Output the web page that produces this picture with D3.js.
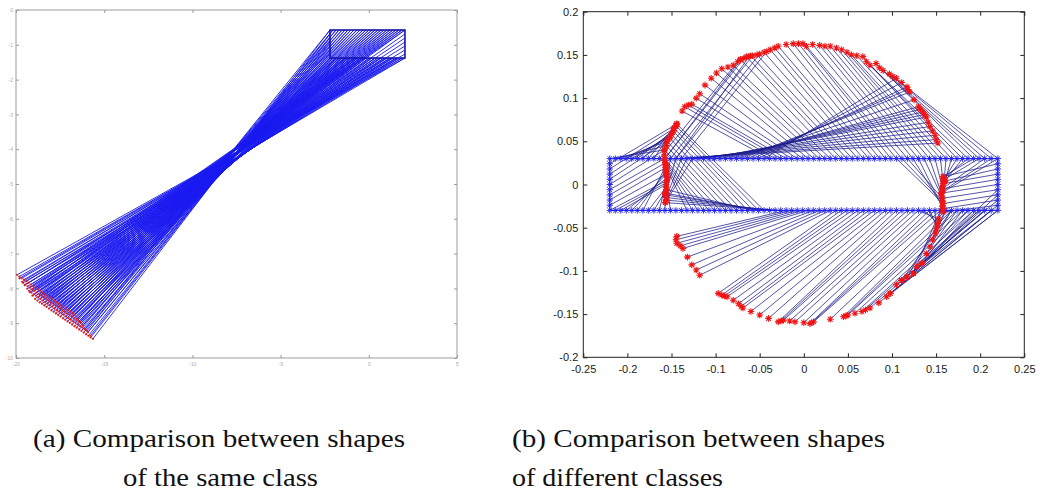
<!DOCTYPE html>
<html><head><meta charset="utf-8">
<script src="https://cdn.jsdelivr.net/npm/d3@7"></script>
<style>body{margin:0;background:#fff}svg{display:block}</style>
</head><body>
<svg id="c" width="1040" height="502"></svg>
<script>
// ---------- Panel (a) data ----------
const aXTicks = [-20, -15, -10, -5, 0, 5];
const aYTicks = [0, -1, -2, -3, -4, -5, -6, -7, -8, -9, -10];
const aRectX = [-2.20, 2.05];
const aRectY = [-0.575, -1.38];
const aEdgeX = [-2.20, -2.03, -1.86, -1.69, -1.52, -1.35, -1.18, -1.01, -0.84, -0.67, -0.50, -0.33, -0.16,
  0.01, 0.18, 0.35, 0.52, 0.69, 0.86, 1.03, 1.20, 1.37, 1.54, 1.71, 1.88, 2.05];
const aSideY = [-0.69, -0.805, -0.92, -1.034, -1.149, -1.264];
// red rows matched to the top edge
const aRedTopX = [-15.64, -15.77, -15.90, -16.03, -16.16, -16.29, -16.42, -16.56, -16.69, -16.82, -16.95, -17.08, -17.21,
  -17.34, -17.48, -17.61, -17.74, -17.87, -18.00, -18.13, -18.27, -18.40, -18.53, -18.66, -18.79, -18.92];
const aRedTopY = [-9.45, -9.41, -9.36, -9.32, -9.27, -9.22, -9.18, -9.13, -9.09, -9.04, -8.99, -8.95, -8.90,
  -8.86, -8.81, -8.76, -8.72, -8.67, -8.63, -8.58, -8.53, -8.49, -8.44, -8.40, -8.35, -8.30];
const aRedTop2X = [-15.98, -16.11, -16.24, -16.37, -16.50, -16.63, -16.76, -16.90, -17.03, -17.16, -17.29, -17.42, -17.55,
  -17.68, -17.82, -17.95, -18.08, -18.21, -18.34, -18.47, -18.61, -18.74, -18.87, -19.00, -19.13, -19.26];
const aRedTop2Y = [-9.22, -9.18, -9.13, -9.09, -9.04, -8.99, -8.95, -8.90, -8.86, -8.81, -8.76, -8.72, -8.67,
  -8.63, -8.58, -8.53, -8.49, -8.44, -8.40, -8.35, -8.30, -8.26, -8.21, -8.17, -8.12, -8.07];
// red rows matched to the bottom edge
const aRedBot2X = [-16.32, -16.45, -16.58, -16.71, -16.84, -16.97, -17.10, -17.24, -17.37, -17.50, -17.63, -17.76, -17.89,
  -18.02, -18.16, -18.29, -18.42, -18.55, -18.68, -18.81, -18.95, -19.08, -19.21, -19.34, -19.47, -19.60];
const aRedBot2Y = [-8.99, -8.95, -8.90, -8.86, -8.81, -8.76, -8.72, -8.67, -8.63, -8.58, -8.53, -8.49, -8.44,
  -8.40, -8.35, -8.30, -8.26, -8.21, -8.17, -8.12, -8.07, -8.03, -7.98, -7.94, -7.89, -7.84];
const aRedBotX = [-16.66, -16.79, -16.92, -17.05, -17.18, -17.31, -17.44, -17.58, -17.71, -17.84, -17.97, -18.10, -18.23,
  -18.36, -18.50, -18.63, -18.76, -18.89, -19.02, -19.15, -19.29, -19.42, -19.55, -19.68, -19.81, -19.94];
const aRedBotY = [-8.76, -8.72, -8.67, -8.63, -8.58, -8.53, -8.49, -8.44, -8.40, -8.35, -8.30, -8.26, -8.21,
  -8.17, -8.12, -8.07, -8.03, -7.98, -7.94, -7.89, -7.84, -7.80, -7.75, -7.71, -7.66, -7.61];
const aRedLeftX = [-15.78, -15.92, -16.07, -16.22, -16.37, -16.51];
const aRedLeftY = [-9.36, -9.26, -9.16, -9.06, -8.96, -8.86];
const aRedRightX = [-19.07, -19.21, -19.36, -19.51, -19.65, -19.80];
const aRedRightY = [-8.21, -8.11, -8.01, -7.91, -7.81, -7.71];

// ---------- Panel (b) data ----------
const bXTicks = [-0.25, -0.2, -0.15, -0.1, -0.05, 0, 0.05, 0.1, 0.15, 0.2, 0.25];
const bYTicks = [-0.2, -0.15, -0.1, -0.05, 0, 0.05, 0.1, 0.15, 0.2];
const bRectX = [-0.22, 0.22];
const bRectY = [-0.03, 0.03];
const bEdgeX = [-0.22, -0.21375, -0.2075, -0.20125, -0.195, -0.18875, -0.1825, -0.17625, -0.17, -0.16375, -0.1575,
  -0.15125, -0.145, -0.13875, -0.1325, -0.12625, -0.12, -0.11375, -0.1075, -0.10125, -0.095, -0.08875, -0.0825,
  -0.07625, -0.07, -0.06375, -0.0575, -0.05125, -0.045, -0.03875, -0.0325, -0.02625, -0.02, -0.01375, -0.0075,
  -0.00125, 0.005, 0.01125, 0.0175, 0.02375, 0.03, 0.03625, 0.0425, 0.04875, 0.055, 0.06125, 0.0675, 0.07375,
  0.08, 0.08625, 0.0925, 0.09875, 0.105, 0.11125, 0.1175, 0.12375, 0.13, 0.13625, 0.1425, 0.14875, 0.155, 0.16125,
  0.1675, 0.17375, 0.18, 0.18625, 0.1925, 0.19875, 0.205, 0.2125, 0.22];
const bSideY = [0.024, 0.018, 0.012, 0.006, 0, -0.006, -0.012, -0.018, -0.024];
// links from the top edge: [blue x, red x, red y]
const bTopLinks = [
  [-0.22, -0.158, 0.040], [-0.21375, -0.156, 0.045], [-0.2075, -0.155, 0.050], [-0.20125, -0.152, 0.054],
  [-0.195, -0.150, 0.058], [-0.18875, -0.148, 0.062], [-0.1825, -0.147, 0.065], [-0.17625, -0.145, 0.068],
  [-0.17, -0.144, 0.070], [-0.16375, -0.075, 0.142], [-0.1575, -0.068, 0.146], [-0.15125, -0.058, 0.149],
  [-0.145, -0.050, 0.151], [-0.13875, -0.042, 0.154], [-0.1575, -0.072, 0.144], [-0.145, -0.062, 0.148],
  [-0.1575, -0.156, -0.006], [-0.15125, -0.157, -0.010], [-0.145, -0.157, -0.012], [-0.13875, -0.156, -0.015],
  [-0.1325, -0.156, -0.018], [-0.12625, -0.157, -0.021],
  [-0.145, 0.152, 0.048], [-0.13875, 0.150, 0.052], [-0.1325, 0.149, 0.057], [-0.12625, 0.146, 0.062],
  [-0.12, 0.143, 0.067], [-0.11375, 0.141, 0.072], [-0.1075, 0.139, 0.078], [-0.10125, 0.137, 0.081],
  [-0.095, 0.135, 0.084], [-0.08875, 0.132, 0.087], [-0.0825, 0.130, 0.090], [-0.07625, 0.125, 0.098],
  [-0.07, 0.120, 0.107], [-0.06375, 0.118, 0.110], [-0.0575, 0.117, 0.113], [-0.05125, 0.111, 0.118],
  [-0.045, 0.105, 0.123],
  [-0.03875, -0.138, 0.085], [-0.0325, -0.135, 0.090], [-0.02625, -0.131, 0.092], [-0.02, -0.127, 0.093],
  [-0.01375, -0.122, 0.100], [-0.0075, -0.118, 0.105], [-0.00125, -0.112, 0.115], [0.005, -0.105, 0.123],
  [0.01125, -0.099, 0.129], [0.0175, -0.093, 0.134], [0.02375, -0.086, 0.136], [0.03, -0.080, 0.138],
  [0.03625, -0.072, 0.145], [0.0425, -0.065, 0.148], [0.04875, -0.060, 0.149], [0.055, -0.053, 0.150],
  [0.06125, -0.045, 0.153], [0.0675, -0.038, 0.156], [0.07375, -0.033, 0.158], [0.08, -0.029, 0.160],
  [0.08625, -0.020, 0.162], [0.0925, -0.012, 0.163], [0.09875, -0.006, 0.163], [0.105, -0.001, 0.163],
  [0.11125, 0.003, 0.160], [0.1175, 0.010, 0.162], [0.12375, 0.018, 0.161], [0.13, 0.024, 0.160],
  [0.13625, 0.030, 0.160], [0.1425, 0.037, 0.158], [0.14875, 0.043, 0.156], [0.155, 0.049, 0.153],
  [0.16125, 0.054, 0.150], [0.1675, 0.060, 0.149], [0.17375, 0.067, 0.148], [0.18, 0.071, 0.142],
  [0.18625, 0.075, 0.138], [0.1925, 0.082, 0.140], [0.19875, 0.086, 0.135], [0.205, 0.090, 0.132],
  [0.2125, 0.097, 0.128], [0.22, 0.101, 0.125],
  [0.105, 0.158, -0.022], [0.11125, 0.157, -0.019], [0.1175, 0.157, -0.016], [0.12375, 0.157, -0.025],
  [0.13, 0.158, -0.028], [0.13625, 0.156, -0.013], [0.1425, 0.156, -0.010], [0.14875, 0.157, -0.003],
  [0.155, 0.158, 0.001], [0.16125, 0.159, 0.003], [0.1675, 0.160, 0.004], [0.17375, 0.159, 0.006],
  [0.18, 0.160, 0.004], [0.18625, 0.158, 0.007], [0.1925, 0.158, 0.009], [0.19875, 0.158, 0.005],
  [0.205, 0.157, -0.005], [0.2125, 0.157, -0.008], [0.22, 0.156, -0.010]
];
// links from the right edge: [blue y, red x, red y]
const bRightLinks = [
  [0.024, 0.158, 0.009], [0.018, 0.160, 0.004], [0.012, 0.158, 0.001], [0.006, 0.157, -0.005],
  [0.0, 0.156, -0.010], [-0.006, 0.157, -0.016], [-0.012, 0.158, -0.022], [-0.018, 0.157, -0.028],
  [-0.024, 0.158, -0.032], [-0.024, 0.098, -0.126], [-0.018, 0.111, -0.111], [-0.012, 0.124, -0.103],
  [-0.006, 0.134, -0.091]
];
// links from the bottom edge: [blue x, red x, red y]
const bBottomLinks = [
  [-0.22, -0.155, 0.005], [-0.21375, -0.156, 0.002], [-0.2075, -0.156, 0.000], [-0.20125, -0.155, 0.008],
  [-0.195, -0.156, 0.012], [-0.18875, -0.156, 0.016], [-0.1825, -0.157, 0.020], [-0.17625, -0.156, -0.003],
  [-0.17, -0.156, -0.006], [-0.16375, -0.155, 0.009], [-0.1575, -0.156, 0.012], [-0.15125, -0.157, 0.016],
  [-0.1325, -0.156, 0.020], [-0.12625, -0.157, 0.023], [-0.12, -0.157, 0.025], [-0.11375, -0.158, 0.028],
  [-0.1075, -0.158, 0.030], [-0.10125, -0.158, 0.035], [-0.095, -0.158, 0.040], [-0.08875, -0.156, 0.045],
  [-0.0825, -0.155, 0.050], [-0.07625, -0.152, 0.054], [-0.07, -0.150, 0.058], [-0.06375, -0.148, 0.062],
  [-0.0575, -0.147, 0.065], [-0.05125, -0.145, 0.068], [-0.045, -0.144, 0.070],
  [-0.0575, -0.156, -0.006], [-0.05125, -0.157, -0.010], [-0.045, -0.157, -0.012], [-0.03875, -0.156, -0.015],
  [-0.0325, -0.156, -0.018], [-0.02625, -0.157, -0.021],
  [-0.02, -0.144, -0.060], [-0.01375, -0.145, -0.064], [-0.0075, -0.144, -0.068], [-0.00125, -0.140, -0.071],
  [0.005, -0.137, -0.074], [0.01125, -0.132, -0.084], [0.0175, -0.127, -0.093], [0.02375, -0.122, -0.099],
  [0.03, -0.118, -0.105],
  [0.03625, -0.097, -0.126], [0.0425, -0.093, -0.128], [0.04875, -0.090, -0.129], [0.055, -0.087, -0.130],
  [0.06125, -0.080, -0.134], [0.0675, -0.074, -0.138], [0.07375, -0.071, -0.141], [0.08, -0.069, -0.143],
  [0.08625, -0.060, -0.147], [0.0925, -0.050, -0.151], [0.09875, -0.040, -0.155], [0.105, -0.029, -0.159],
  [0.11125, -0.026, -0.158], [0.1175, -0.023, -0.157], [0.12375, -0.016, -0.158], [0.13, -0.010, -0.159],
  [0.13625, 0.000, -0.160], [0.1425, 0.007, -0.161], [0.14875, 0.009, -0.160], [0.155, 0.011, -0.159],
  [0.16125, 0.030, -0.156], [0.1675, 0.045, -0.153], [0.17375, 0.048, -0.152], [0.18, 0.050, -0.151],
  [0.18625, 0.058, -0.149], [0.1925, 0.066, -0.147], [0.19875, 0.070, -0.145], [0.205, 0.075, -0.143],
  [0.2125, 0.085, -0.137], [0.22, 0.094, -0.130],
  [0.22, 0.098, -0.126], [0.2125, 0.105, -0.116], [0.205, 0.111, -0.111], [0.19875, 0.117, -0.107],
  [0.1925, 0.124, -0.103], [0.18625, 0.128, -0.095], [0.18, 0.134, -0.091], [0.17375, 0.139, -0.080],
  [0.1675, 0.143, -0.072], [0.16125, 0.146, -0.064], [0.155, 0.149, -0.057], [0.14875, 0.150, -0.053],
  [0.1425, 0.151, -0.049], [0.13625, 0.152, -0.045], [0.13, 0.153, -0.040], [0.155, 0.124, -0.103],
  [0.16125, 0.117, -0.107], [0.1675, 0.111, -0.111]
];
// links from the left edge: [blue y, red x, red y]
const bLeftLinks = [
  [0.024, -0.144, 0.070], [0.018, -0.147, 0.065], [0.012, -0.150, 0.058], [0.006, -0.155, 0.050],
  [0.0, -0.158, 0.040], [-0.006, -0.158, 0.030], [-0.012, -0.157, 0.025], [-0.018, -0.156, 0.020],
  [-0.024, -0.156, 0.012]
];

const captionA = ["(a) Comparison between shapes", "of the same class"];
const captionB = ["(b) Comparison between shapes", "of different classes"];

// ---------- drawing ----------
const svg = d3.select("#c");
function star(r) {
  const d = r * 0.707;
  return `M${-r},0H${r}M0,${-r}V${r}M${-d},${-d}L${d},${d}M${-d},${d}L${d},${-d}`;
}
const fmt = d => String(+d.toFixed(2));

// Panel (a)
const xa = d3.scaleLinear().domain([-20, 5]).range([16, 457]);
const ya = d3.scaleLinear().domain([-10, 0]).range([358, 10]);
const aLinks = [];
aEdgeX.forEach((x, k) => {
  aLinks.push([x, aRectY[0], aRedTopX[k], aRedTopY[k]]);
  aLinks.push([x, aRectY[0], aRedTop2X[k], aRedTop2Y[k]]);
  aLinks.push([x, aRectY[1], aRedBotX[k], aRedBotY[k]]);
  aLinks.push([x, aRectY[1], aRedBot2X[k], aRedBot2Y[k]]);
});
aSideY.forEach((y, j) => {
  aLinks.push([aRectX[0], y, aRedLeftX[j], aRedLeftY[j]]);
  aLinks.push([aRectX[1], y, aRedRightX[j], aRedRightY[j]]);
});
const ga = svg.append("g");
ga.append("rect").attr("x", xa(-20)).attr("y", ya(0)).attr("width", xa(5) - xa(-20)).attr("height", ya(-10) - ya(0))
  .attr("fill", "none").attr("stroke", "#9c9c9c").attr("stroke-width", 1);
const axA = [
  d3.axisBottom(xa).tickValues(aXTicks).tickSize(-3).tickSizeOuter(0).tickPadding(4).tickFormat(fmt),
  d3.axisTop(xa).tickValues(aXTicks).tickSize(-3).tickSizeOuter(0).tickFormat(""),
  d3.axisLeft(ya).tickValues(aYTicks).tickSize(-3).tickSizeOuter(0).tickPadding(3).tickFormat(fmt),
  d3.axisRight(ya).tickValues(aYTicks).tickSize(-3).tickSizeOuter(0).tickFormat("")
];
const aPos = [[0, 358], [0, 10], [16, 0], [457, 0]];
axA.forEach((ax, i) => {
  const g = ga.append("g").attr("transform", `translate(${aPos[i][0]},${aPos[i][1]})`).call(ax);
  g.select(".domain").remove();
  g.selectAll("line").attr("stroke", "#9c9c9c");
  g.selectAll("text").attr("fill", "#aaa").style("font-size", "5px").style("font-family", "'Liberation Sans', Arial");
});
ga.append("g").selectAll("line").data(aLinks).join("line")
  .attr("x1", d => xa(d[0])).attr("y1", d => ya(d[1])).attr("x2", d => xa(d[2])).attr("y2", d => ya(d[3]))
  .attr("stroke", "#1a1af0").attr("stroke-width", 0.9);
ga.append("rect").attr("x", xa(aRectX[0])).attr("y", ya(aRectY[0]))
  .attr("width", xa(aRectX[1]) - xa(aRectX[0])).attr("height", ya(aRectY[1]) - ya(aRectY[0]))
  .attr("fill", "none").attr("stroke", "#1414a8").attr("stroke-width", 1.6);
ga.append("g").selectAll("circle").data(aLinks).join("circle")
  .attr("cx", d => xa(d[2])).attr("cy", d => ya(d[3])).attr("r", 1.1).attr("fill", "#e01818");

// Panel (b)
const xb = d3.scaleLinear().domain([-0.25, 0.25]).range([583.3, 1024.3]);
const yb = d3.scaleLinear().domain([-0.2, 0.2]).range([357.3, 11.7]);
const bLinks = [];
bTopLinks.forEach(d => bLinks.push([d[0], bRectY[1], d[1], d[2]]));
bRightLinks.forEach(d => bLinks.push([bRectX[1], d[0], d[1], d[2]]));
bBottomLinks.forEach(d => bLinks.push([d[0], bRectY[0], d[1], d[2]]));
bLeftLinks.forEach(d => bLinks.push([bRectX[0], d[0], d[1], d[2]]));
const bBlue = [];
bEdgeX.forEach(x => { bBlue.push([x, bRectY[1]]); bBlue.push([x, bRectY[0]]); });
bSideY.forEach(y => { bBlue.push([bRectX[0], y]); bBlue.push([bRectX[1], y]); });

const gb = svg.append("g");
gb.append("rect").attr("x", xb(-0.25)).attr("y", yb(0.2)).attr("width", xb(0.25) - xb(-0.25)).attr("height", yb(-0.2) - yb(0.2))
  .attr("fill", "none").attr("stroke", "#222").attr("stroke-width", 1);
const axB = [
  d3.axisBottom(xb).tickValues(bXTicks).tickSize(-4).tickSizeOuter(0).tickPadding(8).tickFormat(fmt),
  d3.axisTop(xb).tickValues(bXTicks).tickSize(-4).tickSizeOuter(0).tickFormat(""),
  d3.axisLeft(yb).tickValues(bYTicks).tickSize(-4).tickSizeOuter(0).tickPadding(5).tickFormat(fmt),
  d3.axisRight(yb).tickValues(bYTicks).tickSize(-4).tickSizeOuter(0).tickFormat("")
];
const bPos = [[0, 357.3], [0, 11.7], [583.3, 0], [1024.3, 0]];
axB.forEach((ax, i) => {
  const g = gb.append("g").attr("transform", `translate(${bPos[i][0]},${bPos[i][1]})`).call(ax);
  g.select(".domain").remove();
  g.selectAll("line").attr("stroke", "#222");
  g.selectAll("text").attr("fill", "#1a1a1a").style("font-size", "11px").style("font-family", "'Liberation Sans', Arial");
});
gb.append("g").selectAll("line").data(bLinks).join("line")
  .attr("x1", d => xb(d[0])).attr("y1", d => yb(d[1])).attr("x2", d => xb(d[2])).attr("y2", d => yb(d[3]))
  .attr("stroke", "#1c1c8c").attr("stroke-width", 0.75);
gb.append("rect").attr("x", xb(bRectX[0])).attr("y", yb(bRectY[1]))
  .attr("width", xb(bRectX[1]) - xb(bRectX[0])).attr("height", yb(bRectY[0]) - yb(bRectY[1]))
  .attr("fill", "none").attr("stroke", "#2a2af0").attr("stroke-width", 1.2);
gb.append("g").selectAll("path").data(bBlue).join("path")
  .attr("d", star(3.2)).attr("transform", d => `translate(${xb(d[0])},${yb(d[1])})`)
  .attr("fill", "none").attr("stroke", "#2020f0").attr("stroke-width", 0.9);
gb.append("g").selectAll("path").data(bLinks).join("path")
  .attr("d", star(3.3)).attr("transform", d => `translate(${xb(d[2])},${yb(d[3])})`)
  .attr("fill", "none").attr("stroke", "#f01414").attr("stroke-width", 1.1);

// captions
const capFont = "'Liberation Serif', 'DejaVu Serif', serif";
const caps = [
  [captionA[0], 33, 447, 372], [captionA[1], 123, 486, 195],
  [captionB[0], 512, 447, 373], [captionB[1], 512, 486, 211]
];
svg.append("g").selectAll("text").data(caps).join("text")
  .attr("x", d => d[1]).attr("y", d => d[2]).text(d => d[0])
  .attr("textLength", d => d[3]).attr("lengthAdjust", "spacingAndGlyphs")
  .style("font-family", capFont).style("font-size", "25px").attr("fill", "#111");
</script>
</body></html>
